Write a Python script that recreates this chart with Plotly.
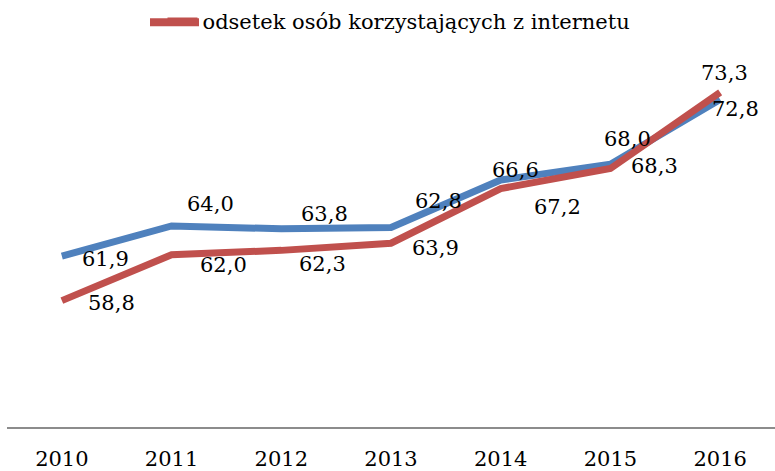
import plotly.graph_objects as go

years = ["2010", "2011", "2012", "2013", "2014", "2015", "2016"]

# series drawn as lines
blue_values = [61.9, 64.0, 63.8, 63.9, 67.2, 68.3, 72.8]
red_values = [58.8, 62.0, 62.3, 62.8, 66.6, 68.0, 73.3]
red_name = "odsetek osób korzystających z internetu"

# data labels as printed on the chart
upper_labels = ["61,9", "64,0", "63,8", "62,8", "66,6", "68,0", "72,8"]
lower_labels = ["58,8", "62,0", "62,3", "63,9", "67,2", "68,3", "73,3"]

BLUE = "#4F81BD"
RED = "#C0504D"
FONT = "DejaVu Serif"
FS = 21

fig = go.Figure()
fig.add_trace(go.Scatter(
    x=years, y=blue_values, mode="lines",
    line=dict(color=BLUE, width=7), showlegend=False,
))
fig.add_trace(go.Scatter(
    x=years, y=red_values, mode="lines", name=red_name,
    line=dict(color=RED, width=7),
))

# label offsets (px) relative to the point they sit next to
upper_shift = [(44, -3), (39, 22), (43, 15), (47, 26), (15, 10), (17, 25), (15, -9)]
lower_shift = [(50, -2), (52, -10), (41, -14), (44, -5), (57, -18), (44, 3), (4, 19)]

annotations = []
for i in range(len(years)):
    dx, dy = upper_shift[i]
    annotations.append(dict(
        x=i, y=blue_values[i], xref="x", yref="y", text=upper_labels[i],
        showarrow=False, xshift=dx, yshift=dy,
        font=dict(size=FS, color="black", family=FONT),
    ))
    dx, dy = lower_shift[i]
    annotations.append(dict(
        x=i, y=red_values[i], xref="x", yref="y", text=lower_labels[i],
        showarrow=False, xshift=dx, yshift=dy,
        font=dict(size=FS, color="black", family=FONT),
    ))

# longer legend swatch, like the original
fig.add_shape(
    type="line", xref="paper", yref="paper",
    x0=(150 - 7) / 768, x1=(199 - 7) / 768, y0=(429 - 22) / 361, y1=(429 - 22) / 361,
    line=dict(color=RED, width=8),
)

fig.update_layout(
    width=775, height=471,
    margin=dict(l=7, r=0, t=68, b=42),
    paper_bgcolor="white", plot_bgcolor="white",
    font=dict(family=FONT, size=FS, color="black"),
    showlegend=True,
    legend=dict(
        orientation="h", x=0.5 + 8 / 768, xanchor="center", y=1.13, yanchor="middle",
        font=dict(size=FS, family=FONT), bgcolor="rgba(0,0,0,0)",
    ),
    xaxis=dict(
        type="category", range=[-0.5, 6.5], showgrid=False, zeroline=False,
        showline=True, linecolor="#8C8C8C", linewidth=2,
        ticks="", tickfont=dict(size=FS, family=FONT), ticklabelstandoff=12,
    ),
    yaxis=dict(
        range=[50, 75], showgrid=False, zeroline=False, showline=False,
        showticklabels=False,
    ),
    annotations=annotations,
)

fig.write_html(
    "out.html",
    config={"displayModeBar": False},
    post_script="document.body.style.margin='0';",
)
